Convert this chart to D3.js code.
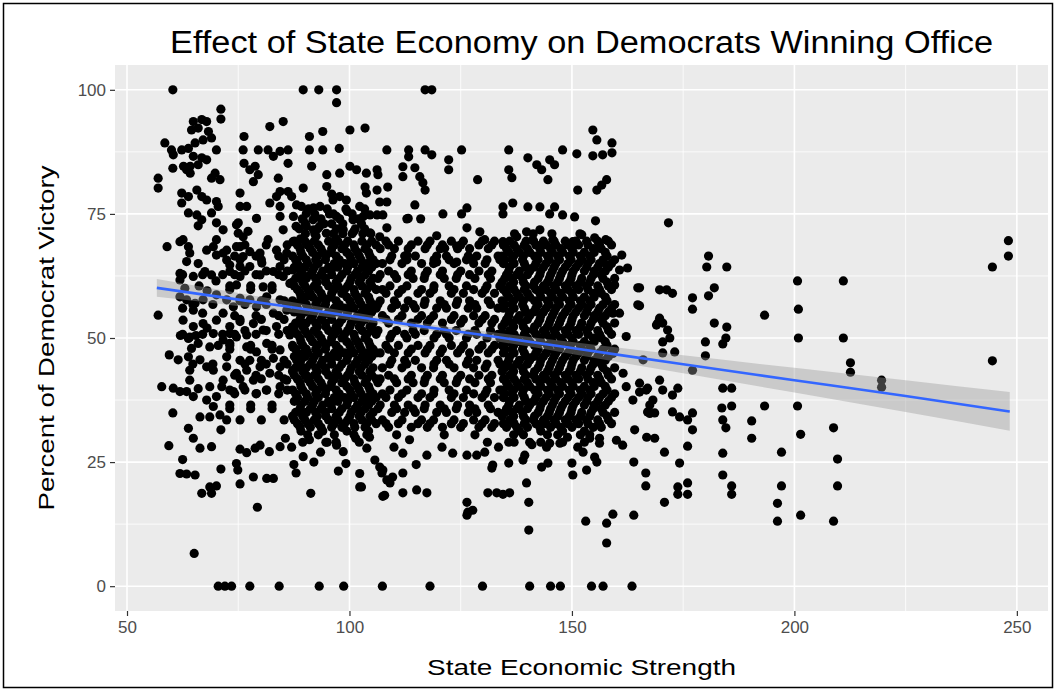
<!DOCTYPE html>
<html>
<head>
<meta charset="utf-8">
<script src="https://cdn.jsdelivr.net/npm/d3@7"></script>
<style>
  body { margin: 0; background: #ffffff; }
  svg { display: block; }
  text { font-family: "Liberation Sans", Arial, Helvetica, sans-serif; }
</style>
</head>
<body>
<svg id="chart" width="1057" height="691"></svg>
<script>
// ---- axis settings -------------------------------------------------------
const xLimits = [47.3, 257.0];
const yLimits = [-5, 105];
const xTicks = [50, 100, 150, 200, 250];
const yTicks = [0, 25, 50, 75, 100];
const xMinor = [75, 125, 175, 225];
const yMinor = [12.5, 37.5, 62.5, 87.5];

// ---- observations: [economic strength, percent democrat victory] ---------
// elections that ended at 0% and 100%
const zeroRow = [70.5, 72, 73.5, 77.6, 84.2, 93.2, 98.7, 107.4, 118.1, 129.9, 140.5, 145.2, 147.4, 154.4, 157, 163.5];
const fullRow = [60.3, 89.6, 93.1, 97.1, 117, 118.5];

// weakest economies (x below 71)
const weakStates = [
  [57,82.2],[57,80.2],[57,54.6],[57.8,40.2],[58.5,89.3],[59,68.4],[59.5,46.6],[59.4,28.3],[60,87.9],[60.4,86.9],[60.3,84.2],[60.4,39.9],[60.3,34.9],
  [61.5,45.6],[61.9,69.4],[61.9,63],[61.9,61.7],[61.9,58.3],[61.9,39.2],[61.9,22.7],[62.3,87.9],[62.3,79.2],[62.3,77.2],[62.7,84.6],[62.5,25.5],[62.6,53.6],[62.6,69.8],[62.5,56],[62,50.5],
  [63.4,83.9],[63.4,57.7],[63.4,22.6],[63.4,65.4],[63.4,39.2],[63,60],[63.8,88.2],[63.8,78.5],[63.8,75.2],[63.8,68.4],[63.8,49.9],[63.8,46.2],[63.8,31.8],
  [64.1,67.1],[64.1,50.2],[64.1,43.5],[64.1,41.5],[64.2,84.6],[64.2,83.2],[64.5,91.9],[64.5,47.9],[64.9,93.6],[64.9,86.6],[64.9,62.4],[64.9,55.6],[64.9,52.3],[64.9,38.2],[64.9,29.8],[65.1,6.6],
  [65.3,89.3],[65.3,57],[65.3,22.4],[65.5,50.5],[65.7,79.8],[65.7,74.8],[66,92.3],[66,84.9],[66,72.6],[66,65],[66,48.9],[66,39.8],[66.4,45.6],[66.4,34.1],[66.4,27.8],[66.2,60.5],
  [66.8,94],[66.8,86.3],[66.8,78.5],[66.8,73.8],[66.8,18.7],[67.1,89.9],[67.1,57.7],[67.1,52.9],[67,55],[67.5,63.4],[67.9,93.6],[67.9,85.9],[67.9,77.8],[67.9,67.7],[67.9,44.2],[67.9,37.5],[68,59.5],[68,52],
  [68.3,91.6],[68.6,48.2],[68.6,40.2],[68.6,34.1],[68.6,20],[69,90.3],[69,82.2],[69,75.2],[69,62.7],[69,28.1],[69,18.7],[69.4,68.4],[69.4,50.9],[69.4,43.5],[69.4,36.2],
  [69.8,83.2],[70.1,87.9],[70.1,77.5],[70.1,73.2],[70.1,69.8],[70.1,66.7],[70.1,58.7],[70.1,53.6],[70.1,38.2],[70.1,20.2],[70.5,76.5],[70.5,48.5],[70,61.5],[70.9,81.9],[70.9,34.5]
];

// x from 71 to 90
const lowerMidStates = [
  [71.1,96.1],[71.1,94.1],[71.1,23.6],[71.1,31.5],[71.6,67.1],[71.6,71.8],[71.6,55],[71.6,49.6],[71.6,41.5],[71.3,40.2],[72.4,65.7],[72.4,67.7],[72.4,57.7],[72.4,46.2],[72.4,44.2],[72.4,33.5],
  [73.1,64.7],[73.1,63.4],[73.1,52.3],[73.1,50.9],[73.1,48.9],[73.1,39.5],[73.9,56.3],[73.9,39.2],
  [74.6,72.8],[74.6,68.4],[74.6,60.7],[74.6,50.2],[74.6,42.9],[74.6,24.7],[74.9,23.4],[75,73.2],[75,71.1],[75.4,79.2],[75.4,76.5],[75.4,68.4],[75.4,64.4],[75.4,62.4],[75.4,58],[75.4,53.3],[75.4,27.6],[75.4,20.6],
  [76.1,87.9],[76.1,70.4],[76.1,66.4],[76.1,40.2],[76.3,90.6],[76.3,85.2],[76.9,76.5],[76.9,48.2],[76.9,43.5],[76.9,50.6],[76.9,26.9],
  [77.2,71.5],[77.6,83.9],[77.6,67.4],[77.6,64.4],[77.6,57.7],[77.6,45.5],
  [78.4,81.5],[78.4,52.9],[78.4,41.5],[78.4,22],[78.8,84.6],[78.8,27.8],[79.1,74.1],[79.1,56.3],[79.1,47.2],[79.1,38.8],[79.3,15.9],[79.5,87.9],[79.5,82.9],
  [79.9,67.1],[79.9,62.7],[79.9,44.2],[79.9,28.4],[80.3,65.1],[80.6,60.3],[80.6,51.6],
  [81.4,58.3],[81.4,48.9],[81.4,39.5],[81.4,21.7],[81.7,87.9],[81.7,69.8],[82,27.1],[82.1,92.6],[82.1,77.2],[82.1,42.9],[82.9,86.6],[82.9,63.4],[82.9,55],[82.9,45.9],[82.9,21.7],
  [83.6,78.5],[83.6,67.7],[83.6,52.3],[84,82.2],[84.4,87.6],[84.4,79.5],[84.4,76.5],[84.4,74.5],[84.4,64.4],[84.4,57.7],[84.4,47.6],[84.4,44.2],[84.4,40.2],[84.4,28.1],
  [85.1,93.6],[85.1,71.8],[85.1,62.4],[85.6,29.8],[85.9,67.1],[85.9,55.6],[85.9,41.5],[86.2,87.9],[86.2,85.2],[86.2,79.5],[86.6,61],[86.6,50.6],
  [87,78.5],[87.3,69.4],[87.3,63.7],[87.3,48.2],[87.3,43.5],[87.4,74.5],[88,72.5],[88,22.8],[88.1,76.8],[88.1,65.7],[88.1,57],[88.1,52.9],[88.1,45.5],[88.8,64.4],[89,70],
  [89.2,76.5],[89.6,80.2],[89.6,73.8],[89.6,62.7],[89.6,46.9],[89.6,26.1],[90.3,69.1],[90.3,58.3],[90.3,42.5]
];

// upper part of the cloud (above ~70%)
const upperStates = [
  [90.3,75.1],[90.3,72.5],[91,90.6],[91,87.9],[91.5,84.6],[91.8,73.8],[91.9,71.8],[91.9,76.2],[92.5,70.5],[93.3,72.5],[93.4,76.5],[94,91.6],[94,87.9],[94.8,71.1],[94.9,82.9],[94.9,80.5],
  [95.5,75],[96,73],[96,79],[96.3,77.8],[97,70],[97.1,74.5],[97.1,97.4],[97.7,88.2],[97.8,83.2],[97.8,78.5],[98.6,71.8],[99.3,77.8],[99.5,75.5],[100.1,84.6],[100.1,91.9],[100.8,73.8],
  [101,71.5],[101.6,83.9],[102.3,76.5],[103,71],[103.1,74.5],[103.5,92.3],[103.8,83.2],[103.8,79.2],[103.5,80.4],
  [106.2,83.9],[106.4,82.9],[106.2,79.8],[108.6,80.4],[108.4,87.9],[106.8,77.4],[108.4,77.4],[104.6,74.8],[106.2,74.8],[107.5,74.8],[104.6,71.2],[106.8,70.4],[108.4,72.2],
  [113.3,87.9],[113.3,86.5],[117,87.9],[118.5,86.9],[125.2,87.9],[122.3,85.9],[122.3,83.9],[112,84.5],[112,82.5],[114.7,84.3],[115.8,82.5],[116.5,81.3],[117,79.8],[128.8,81.9],
  [135.8,87.9],[140.1,86.3],[142.1,84.9],[143.2,83.9],[145,85.9],[146.1,84.9],[144.6,81.9],[135.8,83.9],[136.5,82.3],[147.9,87.9],[151.1,87.1],
  [154.7,91.9],[155.6,89.9],[154.7,86.7],[156.9,86.9],[159,89.3],[159,87.3],[157.8,81.9],[156.7,80.8],[155.6,79.8],[151.3,79.8],
  [114.7,76.8],[112.9,74],[116,74],[113.2,74.1],[121,75],[125.2,75],[126.4,76.2],[134.5,76.4],[136.7,77.2],[134.5,75],[140.1,76.4],[142.8,76.4],[146.1,76.4],[145,75],[147.9,74.8],[150.6,74.4],[155.3,73.6],
  [119.6,70.6],[126.4,72.2],[129.3,71.4],[130.4,69.8],[134.5,69.4],[137.6,70.4],[139.8,71.4],[142.8,71.8],[141.2,69.8],[143.2,68.8],[145.7,69.8],[150.2,69.4],[152.2,70.8],[155.1,70.2],[157.6,69.8],
  [121.4,68.1],[124.1,68.5],[112.9,66.7],[119.6,65.3],[124.1,65.3],[127.7,65.9],[161.2,66.7],[157.8,64.7],[160.7,63.7],[162.5,64.1],[164.8,60.1],[164.8,56.7],[159.6,60.7],[159.2,55],[160.7,55]
];

// strength values that recur across the busiest bands of the cloud
const bandA1 = [87.6, 90.0, 92.1, 95.3, 97.4, 99.6, 102.8, 105.0];
const bandA2 = [88.9, 91.2, 93.6, 96.0, 98.3, 101.2, 103.5];
const bandA3 = [87.2, 89.5, 92.8, 94.7, 97.0, 100.1, 102.2, 104.6];
const bandA4 = [88.3, 90.6, 93.0, 96.6, 98.9, 101.0, 103.9, 106.0];
const bandA5 = [89.1, 91.7, 94.0, 95.9, 99.4, 101.8, 104.3];
const bandA6 = [87.9, 90.3, 92.4, 94.6, 97.7, 100.4, 102.6, 105.3];

const bandM1 = [108.2, 111.0, 115.4, 118.1, 122.9, 125.6, 129.8, 132.6];
const bandM2 = [106.9, 110.1, 113.2, 117.0, 120.4, 124.3, 127.0, 131.2];
const bandM3 = [109.5, 112.4, 114.8, 119.6, 121.8, 126.7, 128.6, 133.4];
const bandM4 = [107.4, 111.8, 116.2, 118.9, 123.5, 127.9, 130.5];
const bandM5 = [108.8, 113.9, 117.5, 120.9, 125.0, 129.1, 132.0];
const bandM6 = [106.4, 110.6, 114.3, 116.8, 121.3, 124.0, 128.2, 131.7];
const bandM7 = [109.1, 112.9, 119.0, 122.4, 126.3, 130.9, 133.8];

const bandB1 = [134.6, 137.0, 139.3, 141.9, 144.2, 146.4, 149.1, 151.5, 153.6, 156.2, 158.9];
const bandB2 = [135.8, 138.2, 140.5, 143.0, 145.6, 147.9, 150.3, 152.8, 155.0, 157.5];
const bandB3 = [134.9, 136.5, 138.9, 142.4, 144.9, 147.2, 149.8, 152.2, 154.3, 157.0, 159.6];
const bandB4 = [136.0, 139.7, 141.4, 143.6, 146.0, 148.5, 150.9, 153.3, 155.8, 158.2];
const bandB5 = [135.3, 137.6, 140.0, 142.8, 145.2, 147.5, 150.0, 154.8, 156.6];
const bandB6 = [134.3, 136.9, 139.1, 141.6, 144.5, 146.8, 149.4, 151.9, 154.0, 157.9];

const bandL1 = [74.2, 79.0, 84.1];
const bandL2 = [76.5, 81.3, 86.0];
const bandL3 = [73.1, 77.8, 82.6];
const bandL4 = [75.4, 80.2, 85.3];
const bandL5 = [62.5, 67.0, 71.5];
const bandL6 = [64.8, 69.3];

// dense body of the cloud: [percent, [economic strength, ...]]
const bodyRows = [
  [76, [90.8, 95.0, 99.2, 103.4]],
  [75, [92.2, 96.4, 100.6]],
  [74, [89.4, 93.6, 97.8, 102.0]],
  [73, [90.1, 94.3, 98.5, 102.7]],
  [72, [88.7, 92.9, 97.1, 101.3, 103.4]],
  [71, [90.1, 92.2, 96.4, 98.5, 100.6, 104.8, 137.1, 141.3, 145.5, 151.8]],
  [69.5,  [...bandA1, ...bandM1, ...bandB4]],
  [68.75, [...bandL2, ...bandA4, ...bandM5, ...bandB1]],
  [68,    [...bandA2, ...bandM2, ...bandB5]],
  [67.25, [...bandA5, ...bandB2]],
  [66.5,  [...bandL1, ...bandA3, ...bandM3, ...bandB6]],
  [65.75, [...bandL4, ...bandA6, ...bandM7, ...bandB3]],
  [65,    [...bandA4, ...bandM4, ...bandB1]],
  [64.25, [...bandA1, ...bandB4]],
  [63.5,  [...bandL2, ...bandA5, ...bandM5, ...bandB2]],
  [62.75, [...bandL1, ...bandL5, ...bandA2, ...bandM2, ...bandB5]],
  [62,    [...bandA6, ...bandM6, ...bandB3]],
  [61.25, [...bandA3, ...bandB6]],
  [60.5,  [...bandL3, ...bandA1, ...bandM7, ...bandB4]],
  [59.75, [...bandL3, ...bandA4, ...bandM4, ...bandB1]],
  [59,    [...bandA2, ...bandM1, ...bandB5]],
  [58.25, [...bandA5, ...bandB2]],
  [57.5,  [...bandL4, ...bandA3, ...bandM2, ...bandB6]],
  [56.75, [...bandL2, ...bandL6, ...bandA6, ...bandM6, ...bandB3]],
  [56,    [...bandA4, ...bandM3, ...bandB1]],
  [55.25, [...bandA1, ...bandB4]],
  [54.5,  [...bandL1, ...bandA5, ...bandM4, ...bandB2]],
  [53.75, [...bandL4, ...bandA2, ...bandM1, ...bandB5]],
  [53,    [...bandA6, ...bandM5, ...bandB3]],
  [52.25, [...bandA3, ...bandB6]],
  [51.5,  [...bandL2, ...bandA1, ...bandM6, ...bandB4]],
  [50.75, [...bandL1, ...bandL5, ...bandA4, ...bandM3, ...bandB1]],
  [50,    [...bandA2, ...bandM7, ...bandB5]],
  [49.25, [...bandA5, ...bandB2]],
  [48.5,  [...bandL3, ...bandA3, ...bandM1, ...bandB6]],
  [47.75, [...bandL3, ...bandA6, ...bandM5, ...bandB3]],
  [47,    [...bandA4, ...bandM2, ...bandB1]],
  [46.25, [...bandA1, ...bandB4]],
  [45.5,  [...bandL4, ...bandA5, ...bandM3, ...bandB2]],
  [44.75, [...bandL2, ...bandL6, ...bandA2, ...bandM7, ...bandB5]],
  [44,    [...bandA6, ...bandM4, ...bandB3]],
  [43.25, [...bandA3, ...bandB6]],
  [42.5,  [...bandL1, ...bandA1, ...bandM5, ...bandB4]],
  [41.75, [...bandL4, ...bandA4, ...bandM2, ...bandB1]],
  [41,    [...bandA2, ...bandM6, ...bandB5]],
  [40.25, [...bandA5, ...bandB2]],
  [39.5,  [...bandL2, ...bandA3, ...bandM7, ...bandB6]],
  [38.75, [...bandL1, ...bandA6, ...bandM4, ...bandB3]],
  [38,    [...bandA4, ...bandM1, ...bandB1]],
  [37.25, [...bandA1, ...bandB4]],
  [36.5,  [...bandL3, ...bandA5, ...bandM2, ...bandB2]],
  [35.75, [...bandL3, ...bandA2, ...bandM6, ...bandB5]],
  [35,    [...bandA6, ...bandM3, ...bandB3]],
  [34.25, [...bandA3, ...bandB6]],
  [33.5,  [...bandL4, ...bandA1, ...bandM4, ...bandB4]],
  [32.75, [...bandA4, ...bandM1, ...bandB1]],
  [32,    [...bandA2, ...bandM5, ...bandB5]],
  [31.25, [89.1, 94.0, 99.4, 104.3, 138.2, 143.0, 147.9, 152.8]],
  [30.5,  [90.6, 93.0, 96.6, 101.0, 103.9, 110.6, 121.3, 128.2, 136.9, 139.1, 144.5, 146.8, 151.9, 154.0]],
  [29,    [89.5, 94.7, 97.0, 102.2, 135.8, 140.5, 143.0, 147.9, 152.8]]
];

// lower tail of the cloud (below ~31%)
const lowerStates = [
  [91.3,18.7],[97.1,28.4],[98.6,27.1],[99.2,24.7],[97.5,23.2],[101.4,29.8],[102.3,22.7],[102.7,20],
  [87,28],[91,29.5],[93.5,27],[95,29],[92,25],[87.5,24.5],
  [140.3,11.3],[157.8,8.7],[153.1,13.1],[157.8,12.7],[159.2,14.5],[163.9,14.3],[126.4,16.9],[126.6,14.9],[127.7,15.3],[126.4,14.3],[140.3,16.9],
  [131.1,18.8],[133.1,18.8],[134.5,18.5],[136,18.8],[139.8,20.8],[112,18.8],[115.1,19.4],[117.4,18.8],[107.5,18.1],[112,22.8],[132,23.8],[132.2,24.4],
  [143.2,24],[144.6,24.8],[135.8,24.8],[139,25.4],[139.4,26.4],[150,24.8],[150.2,22.4],[153.3,23.4],[155.6,25],[155.1,26],[163.9,25],
  [102.3,20],[107.5,23.4],[108.4,21.4],[107.9,18.3],[109.1,20.8],[109.7,22],[103.9,27.8],[105.7,25.4],[106.8,24],[107.3,22.8],
  [112,26.8],[117.4,26.4],[120.8,28],[123.2,26.8],[126.4,26.4],[128.6,26.4],[130.4,27],[145,28.8],[147.3,28.8],[144.3,28],[151.3,28],
  [154,29.8],[156.2,29.8],[156.2,28.8],[160,29.4],[161.4,28.4],[164.1,31.5],
  [137,29],[141,28.5],[149,30],[152.5,27],[131,29],[133.5,28],[113.5,29.5],[110,28],[104.5,30],[115,24.5],
  [162.2,50.3],[161.5,42.9],[162.2,40.2],[166.7,39.5],[168.2,37.5],[167.5,34.8],[163.7,37.5],[166,45.6],[159.2,46.9]
];

// strongest economies (x above 165)
const strongStates = [
  [171.7,73.2],[180.7,66.5],[180.3,64.3],[184.8,64.3],[182,60.1],[180.7,58.5],[177.1,58.1],[177.1,55.8],[182,53],[184.8,52.2],[184.6,50],[183.9,48.8],[180,49.2],[180,46.4],[177.1,43.5],
  [165.2,60.1],[165.2,56.5],[169.7,59.7],[171.3,59.7],[172.6,59],[169.7,54],[169,52.6],[170.4,53],[171.5,51.6],[172,50],[170.4,49.2],[170.4,47],[173.1,47.2],[169.3,53],
  [165.2,40.9],[167,39.9],[165.2,39.1],[169.7,41.5],[170.4,39.5],[172.6,38.5],[173.8,39.9],[167.5,36.5],[167,35.1],[168.6,34.9],[172.6,35.1],[174.2,34.1],[176,33.5],[177.1,34.9],[177.1,31.5],
  [166.8,30],[168.6,29.8],[170.8,27],[176,28.2],[174.2,24.8],[166.6,22.8],[166.6,20.2],[170.8,16.9],[173.8,20],[176,20.8],[173.8,18.5],[176,18.5],
  [183.9,39.9],[185.9,39.9],[183.7,35.9],[185.9,36.3],[183.9,33.5],[184.6,31.9],[183.9,26.8],[183.9,22.4],[185.9,20.2],[185.9,18.5],
  [190.4,33.3],[190.4,29.8],[193.3,54.6],[193.3,36.3],[197.1,27],[197.1,20.2],[196.2,16.7],[196.2,13.1],
  [200.7,61.5],[200.9,55.8],[200.9,50],[200.7,36.3],[201.4,30.6],[201.4,14.3],
  [211,61.5],[211,50],[212.6,45],[212.6,43.1],[208.8,31.9],[209.7,25.6],[209.7,20.2],[208.8,13.1],
  [219.6,41.5],[219.6,40.1],[244.5,64.3],[248.1,69.6],[248.1,66.5],[244.5,45.4]
];

// ---- linear fit with its confidence band ---------------------------------
const smoothX    = [56.7, 80, 100, 115, 130, 150, 175, 200, 225, 248.4];
const smoothFit  = [60.1, 57.1, 54.5, 52.5, 50.6, 48.0, 44.7, 41.5, 38.3, 35.2];
const smoothLow  = [58.3, 55.9, 53.7, 51.9, 49.8, 46.8, 42.9, 39.0, 35.1, 31.3];
const smoothHigh = [61.9, 58.3, 55.3, 53.1, 51.4, 49.2, 46.5, 44.0, 41.5, 39.1];

// ---- assemble points -------------------------------------------------------
const points = [];
zeroRow.forEach(v => points.push([v, 0]));
fullRow.forEach(v => points.push([v, 100]));
[weakStates, lowerMidStates, upperStates, lowerStates, strongStates].forEach(set =>
  set.forEach(p => points.push(p)));
bodyRows.forEach(([pct, xs]) => xs.forEach(v => points.push([v, pct])));

const smooth = smoothX.map((v, i) => ({x: v, fit: smoothFit[i], lo: smoothLow[i], hi: smoothHigh[i]}));

// ---- layout ----------------------------------------------------------------
const svg = d3.select("#chart");
const panel = {left: 115, right: 1048, top: 65, bottom: 611};

const x = d3.scaleLinear().domain(xLimits).range([panel.left, panel.right]);
const y = d3.scaleLinear().domain(yLimits).range([panel.bottom, panel.top]);

svg.append("rect").attr("width", 1057).attr("height", 691).attr("fill", "#ffffff");
svg.append("rect")
  .attr("x", 3.5).attr("y", 3.5).attr("width", 1049).attr("height", 684)
  .attr("fill", "none").attr("stroke", "#000").attr("stroke-width", 1.5);

// panel background
svg.append("rect")
  .attr("x", panel.left).attr("y", panel.top)
  .attr("width", panel.right - panel.left).attr("height", panel.bottom - panel.top)
  .attr("fill", "#EBEBEB");

const grid = svg.append("g");
grid.selectAll(".vminor").data(xMinor).join("line")
  .attr("x1", d => x(d)).attr("x2", d => x(d))
  .attr("y1", panel.top).attr("y2", panel.bottom)
  .attr("stroke", "#fff").attr("stroke-width", 0.8);
grid.selectAll(".hminor").data(yMinor).join("line")
  .attr("y1", d => y(d)).attr("y2", d => y(d))
  .attr("x1", panel.left).attr("x2", panel.right)
  .attr("stroke", "#fff").attr("stroke-width", 0.8);
grid.selectAll(".vmajor").data(xTicks).join("line")
  .attr("x1", d => x(d)).attr("x2", d => x(d))
  .attr("y1", panel.top).attr("y2", panel.bottom)
  .attr("stroke", "#fff").attr("stroke-width", 1.6);
grid.selectAll(".hmajor").data(yTicks).join("line")
  .attr("y1", d => y(d)).attr("y2", d => y(d))
  .attr("x1", panel.left).attr("x2", panel.right)
  .attr("stroke", "#fff").attr("stroke-width", 1.6);

// points
svg.append("g").selectAll("circle").data(points).join("circle")
  .attr("cx", d => x(d[0])).attr("cy", d => y(d[1]))
  .attr("r", 4.6).attr("fill", "#000");

// confidence band and fitted line
svg.append("path").datum(smooth)
  .attr("d", d3.area().x(d => x(d.x)).y0(d => y(d.lo)).y1(d => y(d.hi)).curve(d3.curveMonotoneX))
  .attr("fill", "#999999").attr("fill-opacity", 0.4);
svg.append("path").datum(smooth)
  .attr("d", d3.line().x(d => x(d.x)).y(d => y(d.fit)).curve(d3.curveMonotoneX))
  .attr("fill", "none").attr("stroke", "#3366FF").attr("stroke-width", 2.6);

// axes
const xAxis = svg.append("g").attr("transform", `translate(0,${panel.bottom})`)
  .call(d3.axisBottom(x).tickValues(xTicks).tickSize(5).tickPadding(5).tickFormat(d3.format("d")));
const yAxis = svg.append("g").attr("transform", `translate(${panel.left},0)`)
  .call(d3.axisLeft(y).tickValues(yTicks).tickSize(5).tickPadding(4).tickFormat(d3.format("d")));
[xAxis, yAxis].forEach(a => {
  a.select(".domain").remove();
  a.selectAll(".tick line").attr("stroke", "#333333").attr("stroke-width", 1.2);
  a.selectAll(".tick text").attr("fill", "#4D4D4D")
    .style("font-size", "17px").style("font-family", "'Liberation Sans', Arial, sans-serif");
});

// titles
svg.append("text")
  .attr("x", (panel.left + panel.right) / 2).attr("y", 53)
  .attr("text-anchor", "middle").attr("fill", "#000")
  .attr("textLength", 823).attr("lengthAdjust", "spacingAndGlyphs")
  .style("font-size", "31px")
  .text("Effect of State Economy on Democrats Winning Office");

svg.append("text")
  .attr("x", (panel.left + panel.right) / 2).attr("y", 675)
  .attr("text-anchor", "middle").attr("fill", "#000")
  .attr("textLength", 309).attr("lengthAdjust", "spacingAndGlyphs")
  .style("font-size", "22px")
  .text("State Economic Strength");

svg.append("text")
  .attr("transform", `translate(54,${(panel.top + panel.bottom) / 2}) rotate(-90)`)
  .attr("text-anchor", "middle").attr("fill", "#000")
  .attr("textLength", 345).attr("lengthAdjust", "spacingAndGlyphs")
  .style("font-size", "22px")
  .text("Percent of Democrat Victory");
</script>
</body>
</html>
